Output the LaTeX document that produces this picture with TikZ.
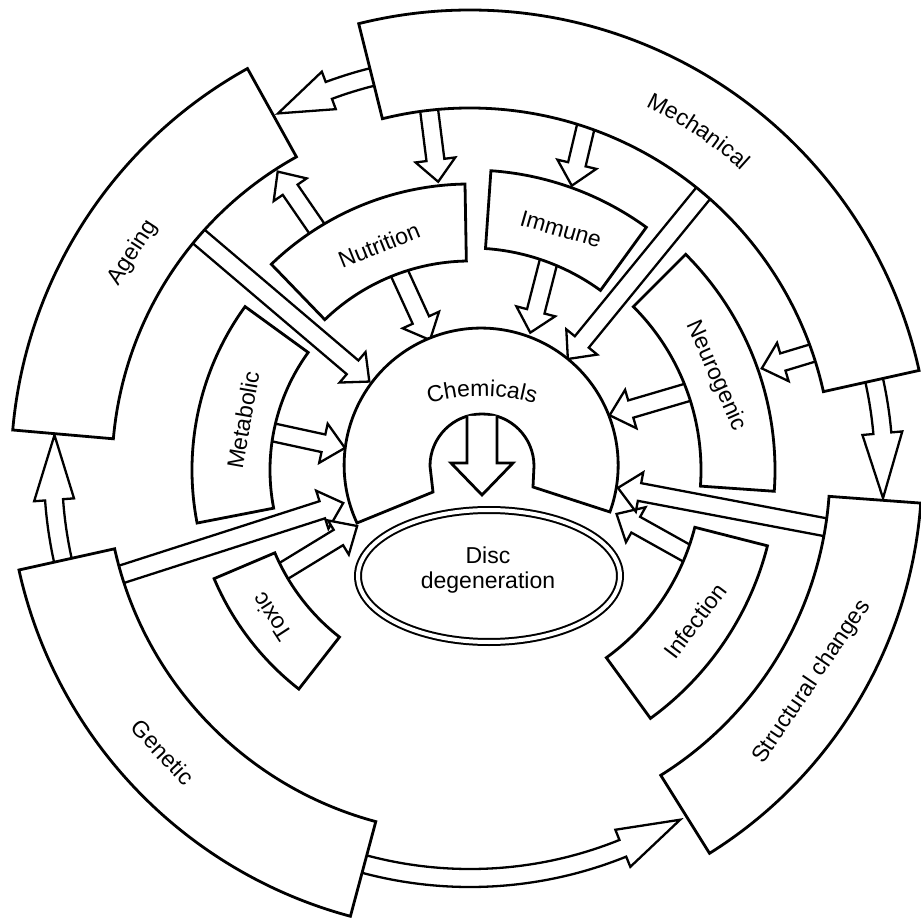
\documentclass[tikz,border=0pt]{standalone}
\usepackage{fontspec}
\setmainfont{Liberation Sans}
\usetikzlibrary{calc,decorations.text}
\newcommand\lblfont{\fontsize{23}{25}\selectfont}
% hollow block arrow from #1 to #2 (named coordinates)
\newcommand\blkarrow[2]{%
  \coordinate (hb) at ($(#2)!22pt!(#1)$);
  \draw[blk] ($(#1)!9pt!90:(#2)$) -- ($(hb)!9pt!90:(#2)$) -- ($(hb)!20pt!90:(#2)$) -- (#2)
    -- ($(hb)!20pt!-90:(#2)$) -- ($(hb)!9pt!-90:(#2)$) -- ($(#1)!9pt!-90:(#2)$) -- cycle;}

\begin{document}
\begin{tikzpicture}[x=1pt,y=1pt,line join=miter,
  box/.style={draw,line width=2.8pt,fill=white},
  blk/.style={draw,line width=2.3pt,fill=white},
  lbl/.style={font=\lblfont,inner sep=0pt}]
\useasboundingbox (-470,-448) rectangle (451,470);
% curved arrows round the outer ring
\foreach \a/\b/\c/\r in {102/110.4/118.3/405, 194/184.1/175.2/417, 252/292/301/408, 14/5.1/-3.9/414}{
  \pgfmathsetmacro\rin{\r-9}\pgfmathsetmacro\rout{\r+9}
  \pgfmathsetmacro\hin{\r-20}\pgfmathsetmacro\hout{\r+20}
  \draw[blk] (\a:\rout) arc[start angle=\a,end angle=\b,radius=\rout] -- (\b:\hout) -- (\c:\r)
    -- (\b:\hin) -- (\b:\rin) arc[start angle=\b,end angle=\a,radius=\rin] -- cycle;}
% straight arrows
\foreach \n/\sa/\sr/\ta/\tr in {mn/96.5/372/96.3/290, mi/71.5/372/70.3/302, mc/49.9/372/48.6/148,
    mg/18.8/372/19.2/309, fc/-21.4/244/-16.7/153, sc/-9.2/372/-6.9/149, nc/19.5/242/21.4/150,
    ic/69.6/232/66.3/150, nuc/110/222/107.1/136, nua/122.3/275/122.8/355, ac/139.3/372/138.7/134,
    mbc/169.1/212/170/127, gec/196.7/376/194.6/131, toc/208.6/224/206.4/126}{
  \coordinate (\n-s) at (\sa:\sr);
  \coordinate (\n-t) at (\ta:\tr);
  \blkarrow{\n-s}{\n-t}}
% factor boxes
\foreach \a/\b/\r/\R in {12.5/104/362/460, 119/175/358/459, 192.5/255/364/462, -58/-4.2/360/452,
    91/134/209/286, 54/86/222/300, -4/45/231/305, 144/191/200/278, 203/232/212/278, -54/-14.3/232/307}
  \draw[box] (\a:\R) arc[start angle=\a,end angle=\b,radius=\R] -- (\b:\r)
    arc[start angle=\b,end angle=\a,radius=\r] -- cycle;
% chemicals and disc
\draw[box] (-113,-53) arc[start angle=205,end angle=-20,radius=137] -- (63,-17) -- (64,4)
  arc[start angle=0,end angle=180,radius=52] -- (-37,-22) -- cycle;
\draw[box] (-3,54) -- (-3,7) -- (-19,7) -- (12,-25) -- (43,7) -- (27,7) -- (27,54);
\draw[line width=2pt,double=white,double distance=4pt] (19,-106) ellipse[x radius=131,y radius=66];
\node[lbl,align=center] (disc) at (18,-100) {Disc\\degeneration};
% labels
\path[decorate,decoration={text along path,text={|\lblfont|Mechanical},text align=center}]
  (75:404) arc[start angle=75,end angle=37,radius=404];
\path[decorate,decoration={text along path,text={|\lblfont|Chemicals},text align=center}]
  (-90.7,41.6) arc[start angle=125,end angle=55,radius=179];
\foreach \n/\p/\rot/\t in {ageing/{(-337,217)}/57/Ageing, genetic/{(-307,-282)}/-47/Genetic,
    struct/{(342,-212)}/56/Structural changes, nutr/{(-91,225)}/22/Nutrition,
    immune/{(91,241)}/-16/Immune, neuro/{(246,94)}/-66/Neurogenic, metab/{(-227,50)}/80/Metabolic,
    toxic/{(-198,-147)}/123/Toxic, infect/{(225,-151)}/53/Infection}
  \node[lbl,rotate=\rot] (\n) at \p {\t};
\end{tikzpicture}
\end{document}
